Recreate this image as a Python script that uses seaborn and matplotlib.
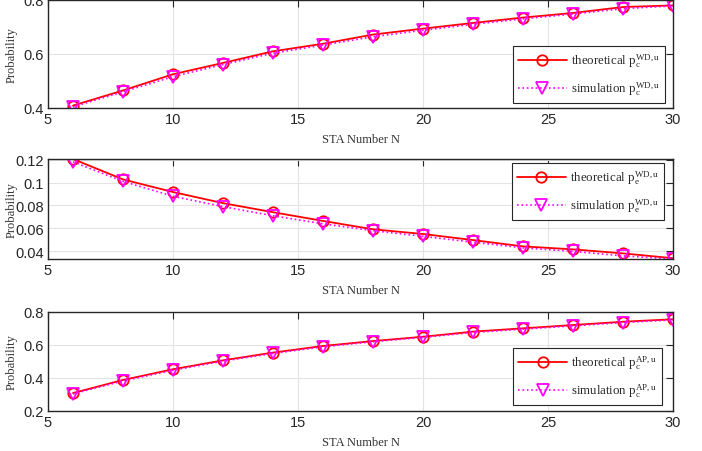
import numpy as np
import pandas as pd
import matplotlib
matplotlib.use("Agg")
import matplotlib.pyplot as plt
import seaborn as sns

# STA counts on the x axis
sta_n = [6, 8, 10, 12, 14, 16, 18, 20, 22, 24, 26, 28, 30]

# Collision probability of WD users
pc_wd_theory = [0.409, 0.465, 0.525, 0.567, 0.610, 0.638, 0.672, 0.694, 0.715, 0.735, 0.752, 0.774, 0.780]
pc_wd_sim = [0.404, 0.460, 0.516, 0.561, 0.603, 0.633, 0.664, 0.688, 0.710, 0.730, 0.748, 0.768, 0.778]

# Error probability of WD users
pe_wd_theory = [0.1205, 0.1027, 0.0917, 0.0820, 0.0741, 0.0665, 0.0592, 0.0551, 0.0498, 0.0443, 0.0417, 0.0382, 0.0340]
pe_wd_sim = [0.1180, 0.1010, 0.0880, 0.0790, 0.0710, 0.0640, 0.0580, 0.0530, 0.0480, 0.0430, 0.0400, 0.0360, 0.0333]

# Collision probability of AP users
pc_ap_theory = [0.309, 0.388, 0.453, 0.507, 0.554, 0.594, 0.624, 0.650, 0.681, 0.701, 0.721, 0.741, 0.756]
pc_ap_sim = [0.304, 0.382, 0.447, 0.502, 0.549, 0.589, 0.620, 0.646, 0.676, 0.696, 0.716, 0.736, 0.752]

x_ticks = [5, 10, 15, 20, 25, 30]

sns.set_style("white")
plt.rcParams["font.family"] = ["Liberation Sans", "DejaVu Sans"]
plt.rcParams["mathtext.fontset"] = "custom"
plt.rcParams["mathtext.rm"] = "Liberation Serif"
plt.rcParams["mathtext.it"] = "Liberation Serif:italic"

W, H = 702, 452
fig = plt.figure(figsize=(W / 100, H / 100), dpi=100)


def px_axes(left, top, right, bottom):
    return fig.add_axes([left / W, 1 - bottom / H, (right - left) / W, (bottom - top) / H])


panels = [
    dict(box=(48, 1, 673, 109), theo=pc_wd_theory, sim=pc_wd_sim, sup="WD,u", sub="c",
         ylim=(0.4, 0.8), yticks=[0.4, 0.6, 0.8], ylabels=["0.4", "0.6", "0.8"],
         leg=(665, 104)),
    dict(box=(48, 160, 673, 260), theo=pe_wd_theory, sim=pe_wd_sim, sup="WD,u", sub="e",
         ylim=None, yticks=[0.04, 0.06, 0.08, 0.10, 0.12],
         ylabels=["0.04", "0.06", "0.08", "0.1", "0.12"], leg=(664, 221)),
    dict(box=(48, 313, 673, 412), theo=pc_ap_theory, sim=pc_ap_sim, sup="AP,u", sub="c",
         ylim=(0.2, 0.8), yticks=[0.2, 0.4, 0.6, 0.8], ylabels=["0.2", "0.4", "0.6", "0.8"],
         leg=(662, 406)),
]

for p in panels:
    ax = px_axes(*p["box"])
    df = pd.DataFrame({"N": sta_n, "theo": p["theo"], "sim": p["sim"]})
    lbl_t = r"theoretical $\mathrm{p}_\mathrm{%s}^\mathrm{%s}$" % (p["sub"], p["sup"])
    lbl_s = r"simulation $\mathrm{p}_\mathrm{%s}^\mathrm{%s}$" % (p["sub"], p["sup"])
    sns.lineplot(data=df, x="N", y="theo", ax=ax, color="red", lw=1.3, marker="o",
                 markersize=7.5, markerfacecolor="none", markeredgecolor="red",
                 markeredgewidth=1.3, label=lbl_t)
    sns.lineplot(data=df, x="N", y="sim", ax=ax, color="magenta", lw=1.2, ls=":",
                 marker="v", markersize=8, markerfacecolor="none",
                 markeredgecolor="magenta", markeredgewidth=1.3, label=lbl_s)
    ax.set_xlim(5, 30)
    if p["ylim"] is None:
        lo = min(min(p["theo"]), min(p["sim"]))
        hi = max(max(p["theo"]), max(p["sim"]))
        ax.set_ylim(lo, hi)
    else:
        ax.set_ylim(*p["ylim"])
    ax.set_xticks(x_ticks)
    ax.set_xticklabels([str(v) for v in x_ticks])
    ax.set_yticks(p["yticks"])
    ax.set_yticklabels(p["ylabels"])
    ax.grid(True, color="#e3e3e3", lw=0.8)
    ax.set_axisbelow(True)
    for s in ax.spines.values():
        s.set_color("#262626")
        s.set_linewidth(1.0)
    ax.tick_params(direction="in", length=5, width=0.8, top=True, right=True,
                   labelsize=10.5, colors="#262626", pad=3)
    ax.set_xlabel("STA Number N", family="Liberation Serif", fontsize=9, color="#333333",
                  labelpad=5)
    ax.set_ylabel("Probability", family="Liberation Serif", fontsize=9, color="#333333")
    l, t, r, b = p["box"]
    ax.yaxis.set_label_coords((18 - l) / (r - l), 0.5)
    lx, ly = p["leg"]
    leg = ax.legend(loc="lower right",
                    bbox_to_anchor=((lx - l) / (r - l), (b - ly) / (b - t)),
                    prop={"family": "Liberation Serif", "size": 9.3},
                    frameon=True, fancybox=False, edgecolor="#262626", framealpha=1,
                    handlelength=3.8, labelspacing=0.75, borderpad=0.4,
                    handletextpad=0.3, borderaxespad=0)
    leg.get_frame().set_linewidth(0.8)

fig.savefig("out.png", dpi=100)
